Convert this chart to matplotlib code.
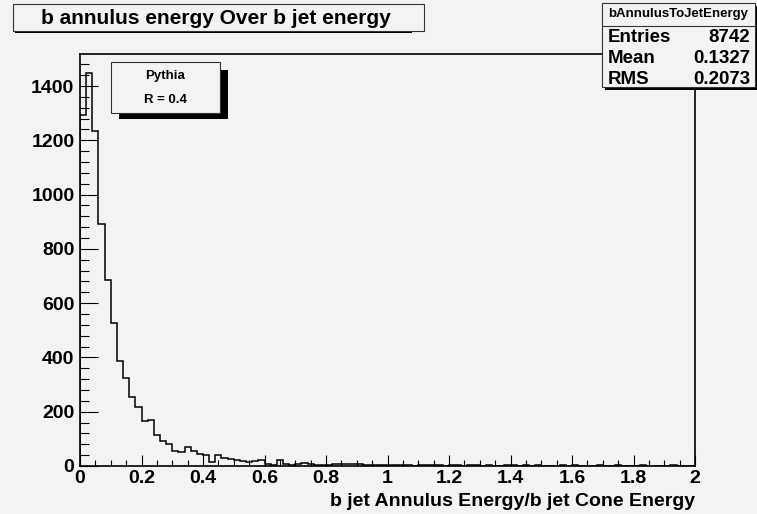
import numpy as np
import matplotlib
matplotlib.use("Agg")
import matplotlib.pyplot as plt
from matplotlib.patches import Rectangle
from matplotlib.ticker import MultipleLocator

# histogram contents, 100 bins from 0 to 2
counts = [1293, 1447, 1234, 890, 686, 526, 386, 323, 255, 216,
          166, 169, 114, 93, 80, 55, 53, 70, 55, 45,
          39, 16, 39, 28, 26, 23, 20, 14, 17, 22,
          9, 5, 21, 6, 5, 7, 12, 9, 5, 5,
          2, 9, 7, 7, 9, 6, 5, 2, 4, 4,
          3, 4, 2, 3, 1, 3, 2, 4, 2, 1,
          3, 2, 1, 2, 3, 1, 2, 1, 0, 3,
          2, 1, 3, 0, 2, 1, 1, 0, 2, 1,
          2, 0, 1, 1, 2, 1, 0, 2, 1, 1,
          0, 2, 1, 0, 1, 1, 2, 1, 0, 1]
x_min, x_max = 0.0, 2.0
y_max = 1518

title = "b annulus energy Over b jet energy"
x_label = "b jet Annulus Energy/b jet Cone Energy"
hist_name = "bAnnulusToJetEnergy"
stats = [("Entries", "8742"), ("Mean", "0.1327"), ("RMS", "0.2073")]
legend_lines = ["Pythia", "R = 0.4"]

W, H = 757, 514
bg = "#f3f3f3"
plt.rcParams["font.family"] = ["Liberation Sans", "DejaVu Sans"]
plt.rcParams["font.weight"] = "bold"

fig = plt.figure(figsize=(W / 100, H / 100), dpi=100, facecolor=bg)


def fx(px):
    return px / W


def fy(py):
    return 1 - py / H


ax = fig.add_axes([fx(80), fy(466), fx(695) - fx(80), fy(54) - fy(466)])
ax.set_facecolor(bg)

edges = np.linspace(x_min, x_max, len(counts) + 1)
ax.stairs(counts, edges, baseline=0, color="black", linewidth=1.1)

ax.set_xlim(x_min, x_max)
ax.set_ylim(0, y_max)
ax.xaxis.set_major_locator(MultipleLocator(0.2))
ax.xaxis.set_minor_locator(MultipleLocator(0.05))
ax.yaxis.set_major_locator(MultipleLocator(200))
ax.yaxis.set_minor_locator(MultipleLocator(40))
ax.xaxis.set_major_formatter(plt.FuncFormatter(lambda v, p: f"{v:g}"))
ax.tick_params(axis="x", which="major", direction="in", length=8, width=0.8,
               labelsize=14, pad=3)
ax.tick_params(axis="x", which="minor", direction="in", length=4, width=0.8)
ax.tick_params(axis="y", which="major", direction="in", length=13, width=0.8,
               labelsize=14, pad=4)
ax.tick_params(axis="y", which="minor", direction="in", length=6.5, width=0.8)
for s in ax.spines.values():
    s.set_linewidth(1.2)

ax.set_xlabel(x_label, fontsize=14, fontweight="bold", loc="right", labelpad=4)

# title box with shadow
fig.patches.append(Rectangle((fx(15), fy(33)), fx(412) - fx(15), fy(4) - fy(33) - 0.004,
                             transform=fig.transFigure, facecolor="black", zorder=5))
fig.patches.append(Rectangle((fx(13), fy(31)), fx(424) - fx(13), fy(4) - fy(31),
                             transform=fig.transFigure, facecolor=bg,
                             edgecolor="#333333", linewidth=0.8, zorder=6))
fig.text(fx(216), fy(18), title, fontsize=15, fontweight="bold",
         ha="center", va="center", zorder=7)

# legend box with shadow
fig.patches.append(Rectangle((fx(119), fy(119)), fx(228) - fx(119), fy(70) - fy(119),
                             transform=fig.transFigure, facecolor="black", zorder=5))
fig.patches.append(Rectangle((fx(111), fy(113)), fx(220) - fx(111), fy(62) - fy(113),
                             transform=fig.transFigure, facecolor=bg,
                             edgecolor="#333333", linewidth=0.8, zorder=6))
fig.text(fx(165), fy(76), legend_lines[0], fontsize=9.5, fontweight="bold",
         ha="center", va="center", zorder=7)
fig.text(fx(165), fy(100), legend_lines[1], fontsize=9.5, fontweight="bold",
         ha="center", va="center", zorder=7)

# stats box
fig.patches.append(Rectangle((fx(605), fy(90)), fx(757) - fx(605), fy(6) - fy(90),
                             transform=fig.transFigure, facecolor="black", zorder=5))
fig.patches.append(Rectangle((fx(602), fy(87)), fx(755) - fx(602), fy(3) - fy(87),
                             transform=fig.transFigure, facecolor=bg,
                             edgecolor="#333333", linewidth=0.8, zorder=6))
fig.lines.append(plt.Line2D([fx(602), fx(755)], [fy(26), fy(26)],
                            transform=fig.transFigure, color="#333333",
                            linewidth=0.8, zorder=7))
fig.text(fx(678), fy(14), hist_name, fontsize=9.5, fontweight="bold",
         ha="center", va="center", zorder=7)
for i, (k, v) in enumerate(stats):
    yy = fy(37 + i * 21.5)
    fig.text(fx(608), yy, k, fontsize=13.5, fontweight="bold",
             ha="left", va="center", zorder=7)
    fig.text(fx(750), yy, v, fontsize=13.5, fontweight="bold",
             ha="right", va="center", zorder=7)

fig.savefig("out.png", dpi=100, facecolor=bg)
